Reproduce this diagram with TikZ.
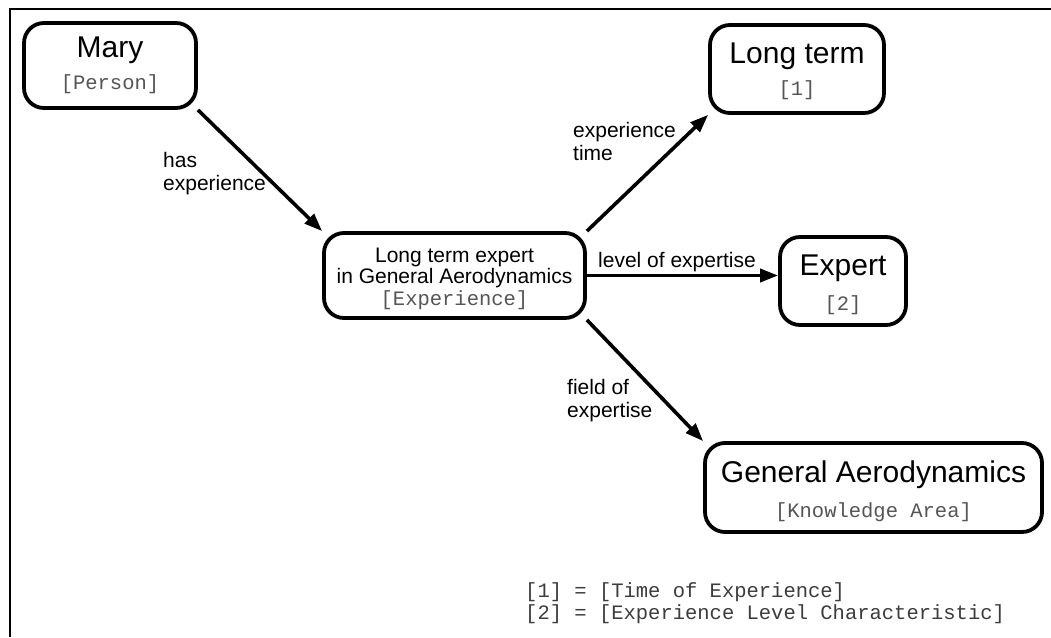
\documentclass[tikz,border=0pt]{standalone}
\usepackage{fontspec}
\setmainfont{Liberation Sans}
\setmonofont{Liberation Mono}
\usetikzlibrary{arrows.meta}
\definecolor{tagcol}{HTML}{555555}
\definecolor{keycol}{HTML}{3C3C3C}
\tikzset{
  concept/.style={draw=black, line width=3.8pt, rounded corners=20pt, inner sep=0pt, fill=white},
  title/.style={anchor=base, inner sep=0pt, font=\fontsize{30}{34}\selectfont},
  body/.style={anchor=base, inner sep=0pt, font=\fontsize{21}{22}\selectfont},
  tag/.style={anchor=base, inner sep=0pt, text=tagcol, font=\ttfamily\fontsize{20.5}{22}\selectfont},
  rel/.style={anchor=base west, inner sep=0pt, align=left, font=\fontsize{21}{22.5}\selectfont},
  key/.style={anchor=base west, inner sep=0pt, text=keycol, font=\ttfamily\fontsize{20.5}{22}\selectfont},
  conn/.style={line width=3.6pt, -{Triangle[length=18pt,width=13pt]}},
  frame/.style={line width=1.3pt}
}
\begin{document}
\begin{tikzpicture}[x=1pt,y=-1pt]
\useasboundingbox (0,0) rectangle (1051,637);
\fill[white] (0,0) rectangle (1051,637);

% page frame (top and left edges)
\draw[frame] (10,637) -- (10,9) -- (1051,9);

% concept boxes
\node[concept, minimum width=172pt, minimum height=85pt] (mary) at (110,65.5) {};
\node[concept, minimum width=174pt, minimum height=88pt] (longterm) at (797,69) {};
\node[concept, minimum width=261pt, minimum height=85pt] (exp) at (454.5,275.5) {};
\node[concept, minimum width=126pt, minimum height=88pt] (expert) at (843,281) {};
\node[concept, minimum width=337pt, minimum height=89pt] (genaero) at (873.5,487.5) {};

% box texts
\node[title] (maryT) at (110,57) {Mary};
\node[tag] (maryC) at (110,89) {[Person]};
\node[title] (longtermT) at (797,63) {Long term};
\node[tag] (longtermC) at (797,95) {[1]};
\node[body] (expT1) at (454.5,262) {Long term expert};
\node[body] (expT2) at (454.5,283.5) {in General Aerodynamics};
\node[tag] (expC) at (454.5,305) {[Experience]};
\node[title] (expertT) at (843,275) {Expert};
\node[tag] (expertC) at (843,310) {[2]};
\node[title] (genaeroT) at (873.5,482) {General Aerodynamics};
\node[tag] (genaeroC) at (873.5,517) {[Knowledge Area]};

% relations
\draw[conn] (mary.south east) -- (exp.north west);
\draw[conn] (exp.north east) -- (longterm.south west);
\draw[conn] (exp.east) -- (exp.east -| expert.west);
\draw[conn] (exp.south east) -- (genaero.north west);

% relation labels (anchored at the baseline of the last line)
\node[rel] (lhas) at (163,190) {has\\experience};
\node[rel] (ltime) at (573,160) {experience\\time};
\node[rel] (llevel) at (598,267) {level of expertise};
\node[rel] (lfield) at (567,417) {field of\\expertise};

% legend
\node[key] (key1) at (525,597) {[1] = [Time of Experience]};
\node[key] (key2) at (525,619) {[2] = [Experience Level Characteristic]};
\end{tikzpicture}
\end{document}
